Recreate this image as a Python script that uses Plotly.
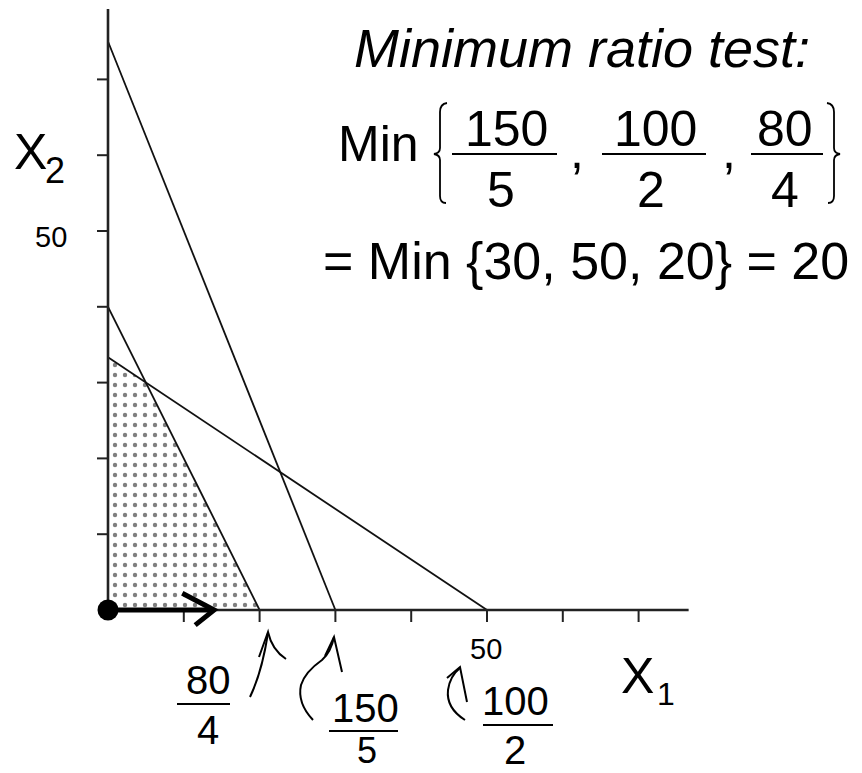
import plotly.graph_objects as go

# ---------------- data ----------------
# constraints: a1*x1 + a2*x2 <= b
coef_x1 = [5, 4, 2]
coef_x2 = [2, 2, 3]
rhs = [150, 80, 100]

# feasible region vertices (x1, x2)
feasible_x1 = [0, 20, 5, 0]
feasible_x2 = [0, 0, 30, 100 / 3]

# axis ticks
tick_values = [10, 20, 30, 40, 50, 60, 70]
x_tick_label_value = 50
y_tick_label_value = 50
x_axis_end = 76.6
y_axis_end = 79.3

# entering-variable direction arrow (from origin along x1)
arrow_shaft_x1 = [0, 14]
arrow_shaft_x2 = [0, 0]
arrow_head_x1 = [9.8, 14, 11.5]
arrow_head_x2 = [2.2, 0, -2.0]

# ratio test
ratio_num = [150, 100, 80]
ratio_den = [5, 2, 4]
ratio_val = [30, 50, 20]

# ---------------- layout geometry ----------------
W, H = 862, 773
S = 7.58          # px per unit
X0, Y0 = 108, 610  # pixel position of origin

FONT = "Liberation Sans, Arial, sans-serif"
INK = "#111111"


def P(x, y):
    return x / W, 1 - y / H


def path(s):
    out = []
    for tok in s.split():
        if "," in tok:
            a, b = tok.split(",")
            px, py = P(float(a), float(b))
            out.append(f"{px:.5f},{py:.5f}")
        else:
            out.append(tok)
    return " ".join(out)


fig = go.Figure()

# feasible region with dot pattern
fig.add_trace(go.Scatter(
    x=feasible_x1, y=feasible_x2, mode="lines", fill="toself",
    line=dict(width=0, color="rgba(0,0,0,0)"),
    fillcolor="white",
    fillpattern=dict(shape=".", fgcolor="black", bgcolor="white", size=10, solidity=0.15),
    hoverinfo="skip",
))

# constraint lines
for a1, a2, b in zip(coef_x1, coef_x2, rhs):
    fig.add_trace(go.Scatter(
        x=[0, b / a1], y=[b / a2, 0], mode="lines",
        line=dict(color=INK, width=1.8), hoverinfo="skip",
    ))

# axes
fig.add_trace(go.Scatter(x=[0, x_axis_end], y=[0, 0], mode="lines",
                         line=dict(color="#222", width=2.6), hoverinfo="skip"))
fig.add_trace(go.Scatter(x=[0, 0], y=[0, y_axis_end], mode="lines",
                         line=dict(color="#222", width=2.6), hoverinfo="skip"))

# ticks
tx, ty = [], []
for t in tick_values:
    tx += [t, t, None]
    ty += [0, -12 / S, None]
fig.add_trace(go.Scatter(x=tx, y=ty, mode="lines", line=dict(color="#222", width=2),
                         hoverinfo="skip"))
vx, vy = [], []
for t in tick_values:
    vx += [0, -11 / S, None]
    vy += [t, t, None]
fig.add_trace(go.Scatter(x=vx, y=vy, mode="lines", line=dict(color="#222", width=2),
                         hoverinfo="skip"))

# direction arrow
fig.add_trace(go.Scatter(x=arrow_shaft_x1, y=arrow_shaft_x2, mode="lines",
                         line=dict(color="black", width=5), hoverinfo="skip"))
fig.add_trace(go.Scatter(x=arrow_head_x1, y=arrow_head_x2, mode="lines",
                         line=dict(color="black", width=5), hoverinfo="skip"))
fig.add_trace(go.Scatter(x=[0], y=[0], mode="markers",
                         marker=dict(color="black", size=21), hoverinfo="skip"))

annotations = []


def txt(text, x, y, size, xanchor="center", italic=False):
    annotations.append(dict(
        text=text, x=x / W, y=1 - y / H, xref="paper", yref="paper",
        xanchor=xanchor, yanchor="middle", showarrow=False,
        font=dict(family=FONT, size=size, color="black",
                  style="italic" if italic else "normal"),
    ))


# axis labels
txt("X", 30, 152, 50)
txt("2", 55, 170, 36)
txt("X", 637, 676, 50)
txt("1", 666, 694, 32)
txt(str(y_tick_label_value), 51, 237, 29)
txt(str(x_tick_label_value), 486, 649, 29)

# title block
txt("Minimum ratio test:", 582, 48, 54, italic=True)
txt("Min", 378, 144, 50)
num_cx = [506, 655, 785]
den_cx = [501, 651, 785]
for n, d, cxn, cxd in zip(ratio_num, ratio_den, num_cx, den_cx):
    txt(str(n), cxn, 129, 50)
    txt(str(d), cxd, 190, 50)
txt(",", 577, 151, 50)
txt(",", 729, 151, 50)
txt("= Min {" + ", ".join(str(v) for v in ratio_val) + "} = " + str(min(ratio_val)),
    586, 261, 52)

# bottom ratio labels (num, den) at each x1-intercept
bottom = [  # (num, den, cx_num, cy_num, cx_den, cy_den, size_den)
    (ratio_num[2], ratio_den[2], 208, 680, 208, 730, 40),
    (ratio_num[0], ratio_den[0], 365, 708, 367, 750, 36),
    (ratio_num[1], ratio_den[1], 515, 701, 515, 750, 40),
]
for n, d, xn, yn, xd, yd, sd in bottom:
    txt(str(n), xn, yn, 40)
    txt(str(d), xd, yd, sd)

shapes = []


def seg(x1, y1, x2, y2, w=2.2):
    a = P(x1, y1)
    b = P(x2, y2)
    shapes.append(dict(type="line", xref="paper", yref="paper",
                       x0=a[0], y0=a[1], x1=b[0], y1=b[1],
                       line=dict(color="black", width=w)))


def pshape(s, w=2):
    shapes.append(dict(type="path", xref="paper", yref="paper", path=path(s),
                       line=dict(color="black", width=w)))


# fraction bars
seg(452, 154, 557, 154)
seg(602, 154, 706, 154)
seg(751, 154, 823, 154)
seg(177, 704, 230, 704)
seg(329, 731, 398, 731)
seg(483, 725, 553, 725)

# big braces
pshape("M 447,103 Q 440,104 440,112 L 440,148 Q 440,153 434,154 Q 440,155 440,160 L 440,196 Q 440,203 446,203", 1.8)
pshape("M 827,103 Q 834,104 834,112 L 834,148 Q 834,153 840,154 Q 834,155 834,160 L 834,196 Q 834,203 828,203", 1.8)

# hand-drawn curved arrows
pshape("M 250,697 Q 262,672 268,633")
pshape("M 259,657 L 268,632 Q 272,650 286,659")
pshape("M 313,720 Q 297,703 301,685 Q 305,672 322,660 Q 331,652 334,637")
pshape("M 325,656 L 334,637 L 342,672")
pshape("M 465,720 Q 446,708 448,690 Q 450,676 460,668")
pshape("M 447,678 L 460,667 L 467,702")

fig.update_layout(
    width=W, height=H, autosize=False,
    margin=dict(l=0, r=0, t=0, b=0),
    paper_bgcolor="white", plot_bgcolor="white",
    showlegend=False,
    xaxis=dict(visible=False, range=[-X0 / S, (W - X0) / S], fixedrange=True),
    yaxis=dict(visible=False, range=[-(H - Y0) / S, Y0 / S], fixedrange=True),
    annotations=annotations, shapes=shapes,
)

fig.write_html("out.html", config={"displayModeBar": False},
               post_script="document.body.style.margin='0';document.body.style.overflow='hidden';")
